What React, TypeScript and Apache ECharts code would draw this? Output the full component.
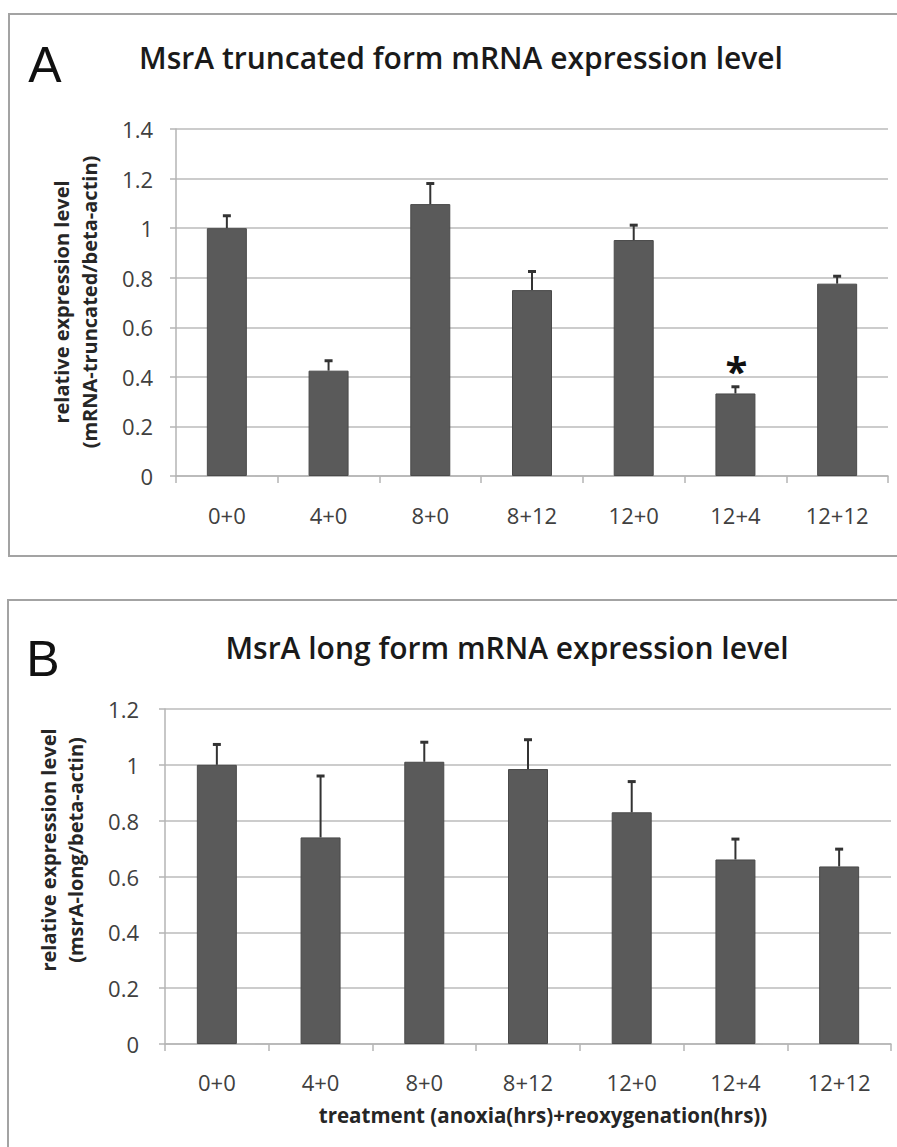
import React, { useEffect, useRef } from "react";
import * as echarts from "echarts";

const categories = ["0+0", "4+0", "8+0", "8+12", "12+0", "12+4", "12+12"];
const valuesA = [1.0, 0.425, 1.097, 0.75, 0.952, 0.333, 0.776];
const errorsA = [0.05, 0.04, 0.083, 0.075, 0.06, 0.027, 0.03];
const marksA = ["", "", "", "", "", "*", ""];
const valuesB = [1.0, 0.74, 1.011, 0.985, 0.83, 0.661, 0.636];
const errorsB = [0.073, 0.22, 0.07, 0.105, 0.11, 0.073, 0.062];
const marksB = ["", "", "", "", "", "", ""];

const titleA = "MsrA truncated form mRNA expression level";
const titleB = "MsrA long form mRNA expression level";
const yNameA = "relative expression level\n(mRNA-truncated/beta-actin)";
const yNameB = "relative expression level\n(msrA-long/beta-actin)";
const xNameB = "treatment (anoxia(hrs)+reoxygenation(hrs))";

const FONT = "'Open Sans', 'Noto Sans', sans-serif";
const BAR = "#5a5a5a";
const GRID = "#cccccc";

function errorRender(values: number[], errors: number[], marks: string[]) {
  return (params: any, api: any) => {
    const i = params.dataIndex;
    const v = values[i];
    const e = errors[i];
    const p0 = api.coord([i, v]);
    const p1 = api.coord([i, v + e]);
    const children: any[] = [
      {
        type: "line",
        shape: { x1: p0[0], y1: p0[1], x2: p1[0], y2: p1[1] },
        style: { stroke: "#333", lineWidth: 2 },
      },
      {
        type: "line",
        shape: { x1: p1[0] - 4, y1: p1[1], x2: p1[0] + 4, y2: p1[1] },
        style: { stroke: "#333", lineWidth: 3 },
      },
    ];
    if (marks[i]) {
      children.push({
        type: "text",
        x: p1[0] + 1,
        y: p1[1] + 4,
        style: {
          text: marks[i],
          font: `bold 40px ${FONT}`,
          fill: "#111",
          textAlign: "center",
          textVerticalAlign: "bottom",
        },
      });
    }
    return { type: "group", children };
  };
}

export default function App() {
  const ref = useRef<HTMLDivElement>(null);
  useEffect(() => {
    document.body.style.margin = "0";
    if (!ref.current) return;
    const chart = echarts.init(ref.current, null, { renderer: "svg" });
    const axisLabel = { color: "#404040", fontFamily: FONT, fontSize: 22 };
    const option: any = {
      animation: false,
      backgroundColor: "#fff",
      grid: [
        { left: 176, right: 9, top: 129, height: 347 },
        { left: 165, right: 6, top: 709, height: 335 },
      ],
      xAxis: [0, 1].map((g) => ({
        type: "category",
        gridIndex: g,
        data: categories,
        boundaryGap: true,
        axisLine: { lineStyle: { color: "#b5b5b5", width: 1.5 } },
        axisTick: { show: true, length: 7, lineStyle: { color: "#b5b5b5", width: 1.5 } },
        axisLabel: { ...axisLabel, fontSize: 22, margin: g === 0 ? 28 : 27 },
        name: g === 1 ? xNameB : "",
        nameLocation: "middle",
        nameGap: 60,
        nameTextStyle: {
          fontFamily: FONT,
          fontSize: 20.5,
          fontWeight: "bold",
          color: "#262626",
          padding: [0, 0, 0, 30],
        },
      })),
      yAxis: [
        {
          type: "value",
          gridIndex: 0,
          min: 0,
          max: 1.4,
          interval: 0.2,
          axisLine: { show: true, lineStyle: { color: "#b5b5b5", width: 1.5 } },
          axisTick: { show: true, length: 6, lineStyle: { color: "#b5b5b5", width: 1.5 } },
          splitLine: { lineStyle: { color: GRID, width: 2 } },
          axisLabel: { ...axisLabel, margin: 23 },
        },
        {
          type: "value",
          gridIndex: 1,
          min: 0,
          max: 1.2,
          interval: 0.2,
          axisLine: { show: true, lineStyle: { color: "#b5b5b5", width: 1.5 } },
          axisTick: { show: true, length: 6, lineStyle: { color: "#b5b5b5", width: 1.5 } },
          splitLine: { lineStyle: { color: GRID, width: 2 } },
          axisLabel: { ...axisLabel, margin: 26 },
        },
      ],
      series: [
        {
          type: "bar",
          xAxisIndex: 0,
          yAxisIndex: 0,
          data: valuesA,
          barWidth: 40,
          itemStyle: { color: BAR, borderColor: "#4a4a4a", borderWidth: 1 },
        },
        {
          type: "custom",
          xAxisIndex: 0,
          yAxisIndex: 0,
          data: valuesA.map((v, i) => [i, v, v + errorsA[i]]),
          encode: { x: 0, y: [1, 2] },
          renderItem: errorRender(valuesA, errorsA, marksA),
          z: 5,
        },
        {
          type: "bar",
          xAxisIndex: 1,
          yAxisIndex: 1,
          data: valuesB,
          barWidth: 40,
          itemStyle: { color: BAR, borderColor: "#4a4a4a", borderWidth: 1 },
        },
        {
          type: "custom",
          xAxisIndex: 1,
          yAxisIndex: 1,
          data: valuesB.map((v, i) => [i, v, v + errorsB[i]]),
          encode: { x: 0, y: [1, 2] },
          renderItem: errorRender(valuesB, errorsB, marksB),
          z: 5,
        },
      ],
      graphic: [
        {
          type: "rect",
          shape: { x: 9, y: 14, width: 900, height: 542 },
          style: { fill: "none", stroke: "#a3a3a3", lineWidth: 2 },
          z: -1,
        },
        {
          type: "rect",
          shape: { x: 8, y: 600, width: 900, height: 600 },
          style: { fill: "none", stroke: "#a3a3a3", lineWidth: 2 },
          z: -1,
        },
        {
          type: "text",
          x: 45,
          y: 65,
          style: { text: "A", font: `50px 'Liberation Sans', Arial, sans-serif`, fill: "#111", textAlign: "center", textVerticalAlign: "middle" },
        },
        {
          type: "text",
          x: 43,
          y: 659,
          style: { text: "B", font: `50px 'Liberation Sans', Arial, sans-serif`, fill: "#111", textAlign: "center", textVerticalAlign: "middle" },
        },
        {
          type: "text",
          x: 461,
          y: 57,
          style: { text: titleA, font: `600 30px ${FONT}`, fill: "#1a1a1a", textAlign: "center", textVerticalAlign: "middle" },
        },
        {
          type: "text",
          x: 507,
          y: 647,
          style: { text: titleB, font: `600 30px ${FONT}`, fill: "#1a1a1a", textAlign: "center", textVerticalAlign: "middle" },
        },
        {
          type: "text",
          x: 75,
          y: 302,
          rotation: Math.PI / 2,
          style: { text: yNameA, font: `bold 20px ${FONT}`, lineHeight: 28, fill: "#262626", textAlign: "center", textVerticalAlign: "middle" },
        },
        {
          type: "text",
          x: 62,
          y: 850,
          rotation: Math.PI / 2,
          style: { text: yNameB, font: `bold 20px ${FONT}`, lineHeight: 27, fill: "#262626", textAlign: "center", textVerticalAlign: "middle" },
        },
      ],
    };
    chart.setOption(option);
    return () => chart.dispose();
  }, []);
  return <div ref={ref} style={{ width: 897, height: 1147 }} />;
}
